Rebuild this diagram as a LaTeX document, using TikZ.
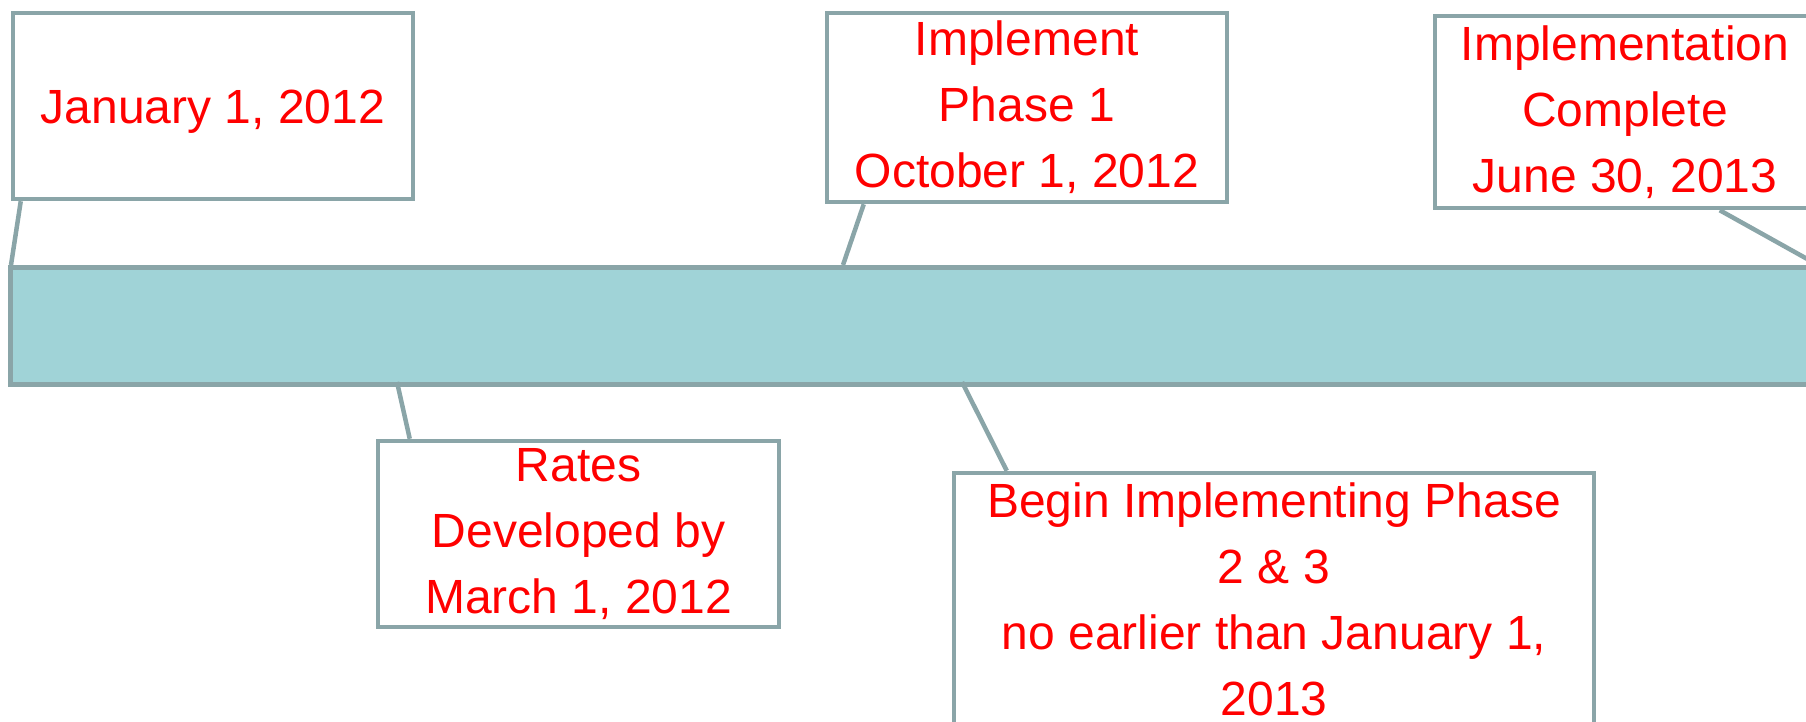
\documentclass[tikz,border=0pt]{standalone}
\usepackage{fontspec}
\setmainfont{Liberation Sans}
\usetikzlibrary{positioning}
\definecolor{rimgray}{RGB}{138,165,168}
\definecolor{barteal}{RGB}{160,211,215}
\tikzset{
  datebox/.style={draw=rimgray, line width=4.5pt, fill=white, text=red, align=center,
    inner sep=0pt, font=\fontsize{48}{66}\selectfont},
  tick/.style={draw=rimgray, line width=4.5pt},
}

\begin{document}
\begin{tikzpicture}[x=1pt,y=-1pt]
	\clip (0,0) rectangle (1806,722);
	% time bar
	\node[draw=rimgray, line width=4.5pt, fill=barteal, inner sep=0pt, anchor=north west,
		minimum width=1840pt, minimum height=117pt] (bar) at (8,265) {};
	\coordinate (m1) at (11,265);
	\coordinate (m2) at (843,265);
	\coordinate (m3) at (1818,265);
	\coordinate (m4) at (397,382);
	\coordinate (m5) at (962,382);
	% milestones
	\node[datebox, minimum width=400pt, minimum height=186pt, text height=46pt, text depth=10pt] (jan) at (213,106) {January 1, 2012};
	\node[datebox, minimum width=400pt, minimum height=189pt] (phaseone) at (1027,107.5) {Implement\\Phase 1\\October 1, 2012};
	\node[datebox, minimum width=380pt, minimum height=192pt] (done) at (1625,112) {Implementation\\Complete\\June 30, 2013};
	\node[datebox, minimum width=401pt, minimum height=186pt] (rates) at (578.5,534) {Rates\\Developed by\\March 1, 2012};
	\node[datebox, minimum width=640pt, minimum height=252pt] (phasetwo) at (1274,599)
		{Begin Implementing Phase\\2 \& 3\\no earlier than January 1,\\2013};
	% connectors
	\draw[tick] ([xshift=10pt]jan.south west) -- (m1);
	\draw[tick] ([xshift=39pt]phaseone.south west) -- (m2);
	\draw[tick] ([xshift=287pt]done.south west) -- (m3);
	\draw[tick] (m4) -- ([xshift=34pt]rates.north west);
	\draw[tick] (m5) -- ([xshift=55pt]phasetwo.north west);
\end{tikzpicture}
\end{document}
